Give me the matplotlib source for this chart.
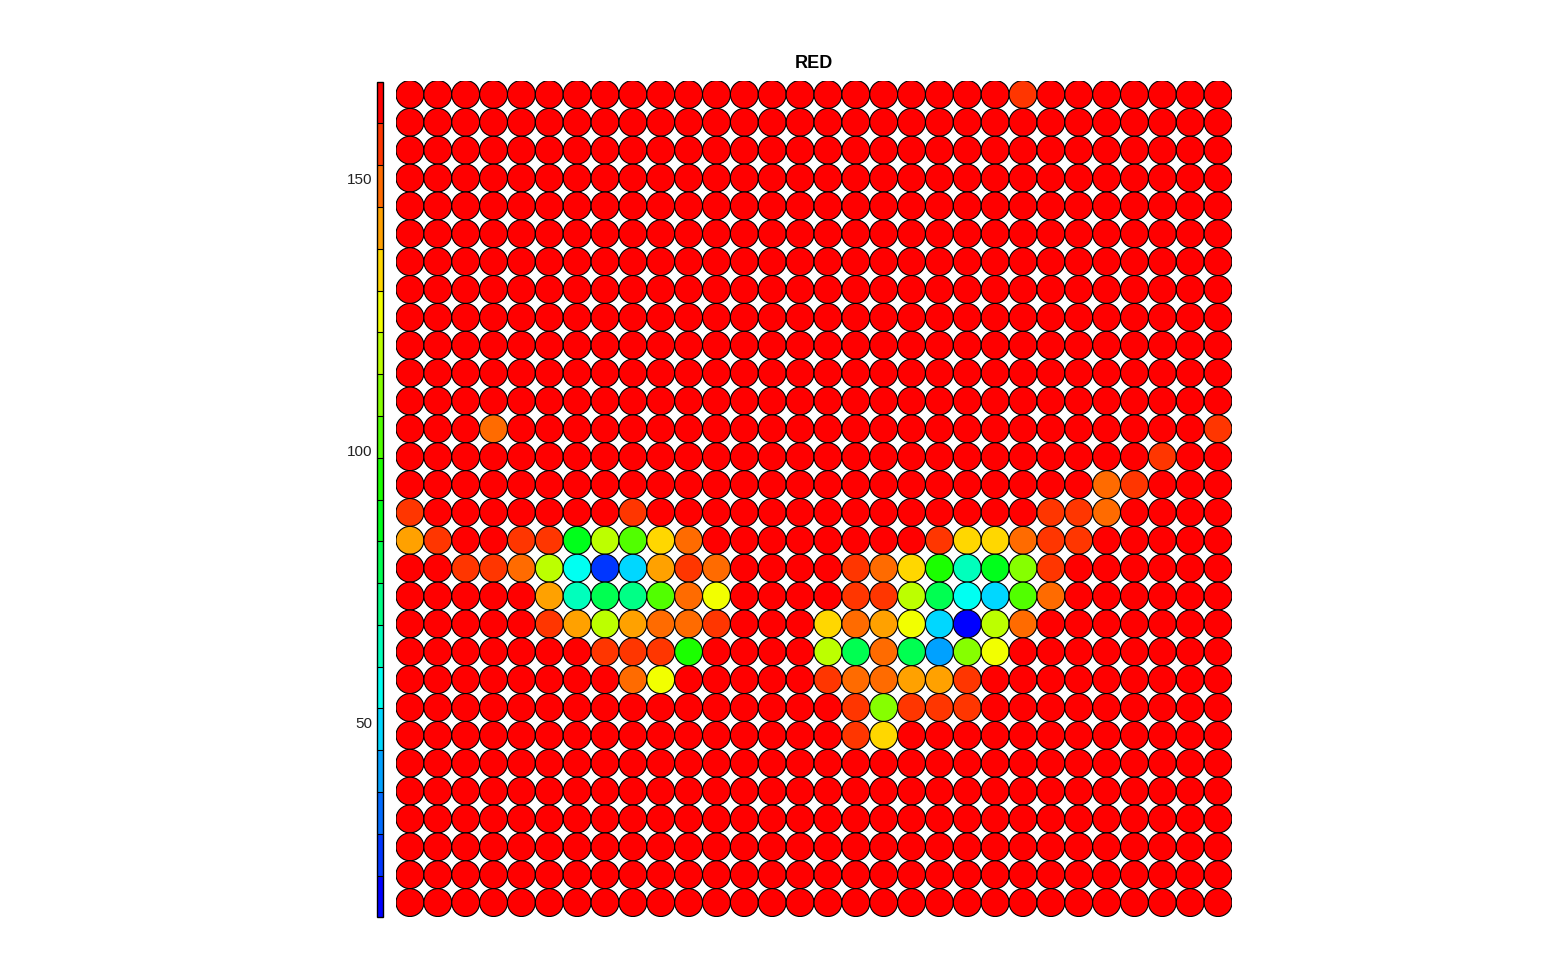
import numpy as np
import matplotlib
matplotlib.use("Agg")
import matplotlib.pyplot as plt
from matplotlib.patches import Circle
from matplotlib.collections import PatchCollection
from matplotlib.colors import ListedColormap, Normalize, hsv_to_rgb

plt.rcParams['font.family'] = ['Liberation Sans', 'DejaVu Sans']

title = "RED"
n_rows = 30
n_cols = 30
vmin, vmax = 14.2, 167.7
cbar_ticks = [50, 100, 150]
n_levels = 20

# node values, first row = top row of the map
red = [
    [164,164,164,164,164,164,164,164,164,164, 164,164,164,164,164,164,164,164,164,164, 164,164,156,164,164,164,164,164,164,164],
    [164,164,164,164,164,164,164,164,164,164, 164,164,164,164,164,164,164,164,164,164, 164,164,164,164,164,164,164,164,164,164],
    [164,164,164,164,164,164,164,164,164,164, 164,164,164,164,164,164,164,164,164,164, 164,164,164,164,164,164,164,164,164,164],
    [164,164,164,164,164,164,164,164,164,164, 164,164,164,164,164,164,164,164,164,164, 164,164,164,164,164,164,164,164,164,164],
    [164,164,164,164,164,164,164,164,164,164, 164,164,164,164,164,164,164,164,164,164, 164,164,164,164,164,164,164,164,164,164],
    [164,164,164,164,164,164,164,164,164,164, 164,164,164,164,164,164,164,164,164,164, 164,164,164,164,164,164,164,164,164,164],
    [164,164,164,164,164,164,164,164,164,164, 164,164,164,164,164,164,164,164,164,164, 164,164,164,164,164,164,164,164,164,164],
    [164,164,164,164,164,164,164,164,164,164, 164,164,164,164,164,164,164,164,164,164, 164,164,164,164,164,164,164,164,164,164],
    [164,164,164,164,164,164,164,164,164,164, 164,164,164,164,164,164,164,164,164,164, 164,164,164,164,164,164,164,164,164,164],
    [164,164,164,164,164,164,164,164,164,164, 164,164,164,164,164,164,164,164,164,164, 164,164,164,164,164,164,164,164,164,164],
    [164,164,164,164,164,164,164,164,164,164, 164,164,164,164,164,164,164,164,164,164, 164,164,164,164,164,164,164,164,164,164],
    [164,164,164,164,164,164,164,164,164,164, 164,164,164,164,164,164,164,164,164,164, 164,164,164,164,164,164,164,164,164,164],
    [164,164,164,149,164,164,164,164,164,164, 164,164,164,164,164,164,164,164,164,164, 164,164,164,164,164,164,164,164,164,156],
    [164,164,164,164,164,164,164,164,164,164, 164,164,164,164,164,164,164,164,164,164, 164,164,164,164,164,164,164,156,164,164],
    [164,164,164,164,164,164,164,164,164,164, 164,164,164,164,164,164,164,164,164,164, 164,164,164,164,164,149,156,164,164,164],
    [156,164,164,164,164,164,164,164,156,164, 164,164,164,164,164,164,164,164,164,164, 164,164,164,156,156,149,164,164,164,164],
    [141,156,164,164,156,156, 87,118,102,133, 149,164,164,164,164,164,164,164,164,156, 133,133,149,156,156,164,164,164,164,164],
    [164,164,156,156,149,118, 56, 26, 49,141, 156,149,164,164,164,164,156,149,133, 95,  64, 87,110,156,164,164,164,164,164,164],
    [164,164,164,164,164,141, 64, 79, 72,102, 149,126,164,164,164,164,156,156,118, 79,  56, 49,102,149,164,164,164,164,164,164],
    [164,164,164,164,164,156,141,118,141,149, 149,156,164,164,164,133,149,141,126, 49,  16,118,149,164,164,164,164,164,164,164],
    [164,164,164,164,164,164,164,156,156,156,  95,164,164,164,164,118, 79,149, 79, 41, 110,126,164,164,164,164,164,164,164,164],
    [164,164,164,164,164,164,164,164,149,126, 164,164,164,164,164,156,149,149,141,141, 156,164,164,164,164,164,164,164,164,164],
    [164,164,164,164,164,164,164,164,164,164, 164,164,164,164,164,164,156,110,156,156, 156,164,164,164,164,164,164,164,164,164],
    [164,164,164,164,164,164,164,164,164,164, 164,164,164,164,164,164,156,133,164,164, 164,164,164,164,164,164,164,164,164,164],
    [164,164,164,164,164,164,164,164,164,164, 164,164,164,164,164,164,164,164,164,164, 164,164,164,164,164,164,164,164,164,164],
    [164,164,164,164,164,164,164,164,164,164, 164,164,164,164,164,164,164,164,164,164, 164,164,164,164,164,164,164,164,164,164],
    [164,164,164,164,164,164,164,164,164,164, 164,164,164,164,164,164,164,164,164,164, 164,164,164,164,164,164,164,164,164,164],
    [164,164,164,164,164,164,164,164,164,164, 164,164,164,164,164,164,164,164,164,164, 164,164,164,164,164,164,164,164,164,164],
    [164,164,164,164,164,164,164,164,164,164, 164,164,164,164,164,164,164,164,164,164, 164,164,164,164,164,164,164,164,164,164],
    [164,164,164,164,164,164,164,164,164,164, 164,164,164,164,164,164,164,164,164,164, 164,164,164,164,164,164,164,164,164,164],
]

# blue -> red rainbow in 20 steps
hues = np.linspace(2/3, 0, n_levels)
cmap = ListedColormap([hsv_to_rgb((h, 1, 1)) for h in hues])
norm = Normalize(vmin=vmin, vmax=vmax)

W, H = 1553, 960
fig = plt.figure(figsize=(W/100, H/100), dpi=100)
ax = fig.add_axes([396/W, 43/H, 836/W, 837/H])

values = np.array(red, dtype=float)
circles = []
vals = []
for r in range(n_rows):
    for c in range(n_cols):
        circles.append(Circle((c, n_rows - 1 - r), 0.5))
        vals.append(values[r, c])

pc = PatchCollection(circles, cmap=cmap, norm=norm, edgecolor='black', linewidth=0.8)
pc.set_array(np.array(vals))
ax.add_collection(pc)
ax.set_xlim(-0.5, n_cols - 0.5)
ax.set_ylim(-0.5, n_rows - 0.5)
ax.set_aspect('equal')
ax.axis('off')

cax = fig.add_axes([377/W, 42.7/H, 6/W, 835.6/H])
cb = fig.colorbar(pc, cax=cax, ticks=cbar_ticks, drawedges=True)
cb.outline.set_linewidth(1.0)
cb.dividers.set_linewidth(0.8)
cax.yaxis.set_ticks_position('left')
cax.tick_params(length=0, labelsize=11, pad=3, colors='#222222')

fig.text(814/W, 1 - 63/H, title, ha='center', va='center', fontsize=13, fontweight='bold')

fig.savefig("out.png", dpi=100)
